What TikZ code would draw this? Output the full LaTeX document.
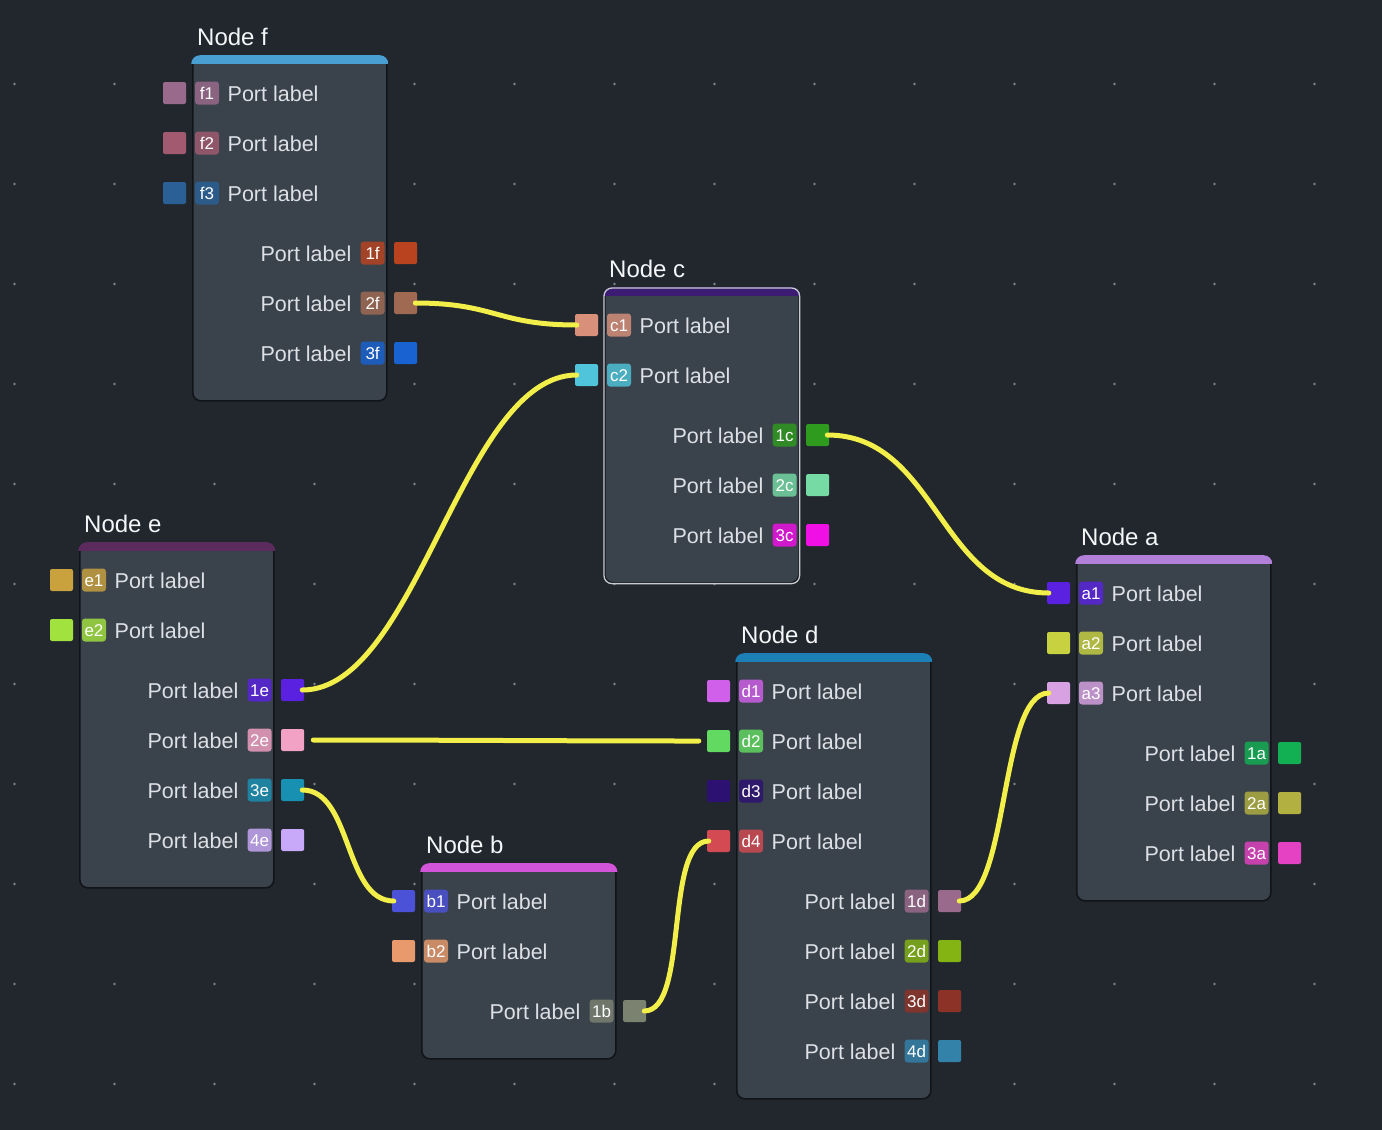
\documentclass[tikz,border=0pt]{standalone}
\usepackage{fontspec}
\setmainfont{Liberation Sans}
\usetikzlibrary{calc}
\definecolor{bgc}{HTML}{22272E}
\definecolor{bodyc}{HTML}{3A424C}
\definecolor{bordc}{HTML}{111418}
\definecolor{selc}{HTML}{C8CCD2}
\definecolor{wirec}{HTML}{F2EE4A}
\definecolor{dotc}{HTML}{7E858E}
\definecolor{labc}{HTML}{DDE1E6}
\definecolor{titc}{HTML}{F4F6F8}
\definecolor{hf}{HTML}{4A9FD2}
\definecolor{hc}{HTML}{3B1C72}
\definecolor{he}{HTML}{5C2B5E}
\definecolor{hb}{HTML}{D254D8}
\definecolor{hd}{HTML}{1C7FB6}
\definecolor{ha}{HTML}{B27FD9}
% port colours
\definecolor{pf1}{HTML}{9A6A8C}\definecolor{pf2}{HTML}{A25A70}\definecolor{pf3}{HTML}{2A6096}
\definecolor{p1f}{HTML}{B9431F}\definecolor{p2f}{HTML}{A06A52}\definecolor{p3f}{HTML}{1862D2}
\definecolor{pc1}{HTML}{D9907A}\definecolor{pc2}{HTML}{4FC4DA}
\definecolor{p1c}{HTML}{2E9A1E}\definecolor{p2c}{HTML}{76DAA4}\definecolor{p3c}{HTML}{F010E6}
\definecolor{pe1}{HTML}{C9A23E}\definecolor{pe2}{HTML}{A2E23E}
\definecolor{p1e}{HTML}{5A22E0}\definecolor{p2e}{HTML}{F2A2C4}\definecolor{p3e}{HTML}{1890B2}\definecolor{p4e}{HTML}{C8A8F8}
\definecolor{pb1}{HTML}{4C52D8}\definecolor{pb2}{HTML}{E99A6C}\definecolor{p1b}{HTML}{7C8270}
\definecolor{pd1}{HTML}{D060EA}\definecolor{pd2}{HTML}{62DA62}\definecolor{pd3}{HTML}{2C1072}\definecolor{pd4}{HTML}{D44A52}
\definecolor{p1d}{HTML}{9A6A8C}\definecolor{p2d}{HTML}{84B414}\definecolor{p3d}{HTML}{8C3226}\definecolor{p4d}{HTML}{3282AA}
\definecolor{pa1}{HTML}{5A22E0}\definecolor{pa2}{HTML}{C8D240}\definecolor{pa3}{HTML}{D8A2E2}
\definecolor{p1a}{HTML}{12B052}\definecolor{p2a}{HTML}{B2B040}\definecolor{p3a}{HTML}{E442C2}

\tikzset{
  nodebody/.style={draw=bordc, line width=1.6pt, fill=bodyc, rounded corners=8pt,
    minimum width=194pt, inner sep=0pt, anchor=north west},
  titlestyle/.style={text=titc, font=\fontsize{24}{28}\selectfont, inner sep=0pt, anchor=base west},
  sq/.style={minimum width=23pt, minimum height=22pt, inner sep=0pt, rounded corners=2pt},
  badge/.style={minimum width=24pt, minimum height=23pt, inner sep=0pt, rounded corners=3pt,
    text=white, font=\fontsize{17}{20}\selectfont, text height=12.3pt, text depth=0pt},
  plabel/.style={text=labc, font=\fontsize{21.5}{25}\selectfont, inner sep=0pt},
  wire/.style={draw=wirec, line width=5pt, line cap=round},
}
\newcommand\mkbox[6]{% name, L, T, height, header, title
  \node[nodebody, minimum height=#4pt] (#1) at (#2,#3) {};
  \begin{scope}
    \clip[rounded corners=8.8pt] ([shift={(-0.8pt,0.8pt)}]#1.north west) rectangle ([shift={(0.8pt,-0.8pt)}]#1.south east);
    \fill[#5] ([shift={(-1pt,1pt)}]#1.north west) rectangle ([shift={(1pt,-8pt)}]#1.north east);
  \end{scope}
  \node[titlestyle] (#1-title) at ([shift={(5pt,11pt)}]#1.north west) {#6};
}
\newcommand\inport[5]{% node, name, offset, colour, badge
  \node[sq, fill=#4] (#2) at ([shift={(-17.5pt,-#3pt)}]#1.north west) {};
  \node[badge, fill=#4!82!bodyc] (#2-b) at ([shift={(15pt,-#3pt)}]#1.north west) {#5};
  \node[plabel, anchor=base west] (#2-l) at ([shift={(35.5pt,-#3pt-8.5pt)}]#1.north west) {Port label};
}
\newcommand\outport[5]{% node, name, offset, colour, badge
  \node[sq, fill=#4] (#2) at ([shift={(18pt,-#3pt)}]#1.north east) {};
  \node[badge, fill=#4!82!bodyc] (#2-b) at ([shift={(-15pt,-#3pt)}]#1.north east) {#5};
  \node[plabel, anchor=base east] (#2-l) at ([shift={(-36pt,-#3pt-8.5pt)}]#1.north east) {Port label};
}
\newcommand\wireto[3]{%
  \draw[wire] ([xshift=-2pt]#1.east) .. controls +(#3,0) and +(-#3,0) .. ([xshift=2pt]#2.west);
}

\begin{document}
\begin{tikzpicture}[x=1pt, y=-1pt]
\fill[bgc] (0,0) rectangle (1382,1130);
\useasboundingbox (0,0) rectangle (1382,1130);
\foreach \i in {0,...,13}{
  \foreach \j in {0,...,10}{
    \fill[dotc] (14.5+100*\i, 84+100*\j) circle (1.3);
  }
}

% Node f
\mkbox{nf}{192}{56}{344}{hf}{Node f}
\inport{nf}{f1}{37}{pf1}{f1}
\inport{nf}{f2}{87}{pf2}{f2}
\inport{nf}{f3}{137}{pf3}{f3}
\outport{nf}{o1f}{197}{p1f}{1f}
\outport{nf}{o2f}{247}{p2f}{2f}
\outport{nf}{o3f}{297}{p3f}{3f}

% Node c (selected)
\mkbox{nc}{604}{288}{294}{hc}{Node c}
\draw[selc, line width=1.3pt, rounded corners=8pt] (nc.north west) rectangle (nc.south east);
\inport{nc}{c1}{37}{pc1}{c1}
\inport{nc}{c2}{87}{pc2}{c2}
\outport{nc}{o1c}{147}{p1c}{1c}
\outport{nc}{o2c}{197}{p2c}{2c}
\outport{nc}{o3c}{247}{p3c}{3c}

% Node e
\mkbox{ne}{79}{543}{344}{he}{Node e}
\inport{ne}{e1}{37}{pe1}{e1}
\inport{ne}{e2}{87}{pe2}{e2}
\outport{ne}{o1e}{147}{p1e}{1e}
\outport{ne}{o2e}{197}{p2e}{2e}
\outport{ne}{o3e}{247}{p3e}{3e}
\outport{ne}{o4e}{297}{p4e}{4e}

% Node b
\mkbox{nb}{421}{864}{194}{hb}{Node b}
\inport{nb}{b1}{37}{pb1}{b1}
\inport{nb}{b2}{87}{pb2}{b2}
\outport{nb}{o1b}{147}{p1b}{1b}

% Node d
\mkbox{nd}{736}{654}{444}{hd}{Node d}
\inport{nd}{d1}{37}{pd1}{d1}
\inport{nd}{d2}{87}{pd2}{d2}
\inport{nd}{d3}{137}{pd3}{d3}
\inport{nd}{d4}{187}{pd4}{d4}
\outport{nd}{o1d}{247}{p1d}{1d}
\outport{nd}{o2d}{297}{p2d}{2d}
\outport{nd}{o3d}{347}{p3d}{3d}
\outport{nd}{o4d}{397}{p4d}{4d}

% Node a
\mkbox{na}{1076}{556}{344}{ha}{Node a}
\inport{na}{a1}{37}{pa1}{a1}
\inport{na}{a2}{87}{pa2}{a2}
\inport{na}{a3}{137}{pa3}{a3}
\outport{na}{o1a}{197}{p1a}{1a}
\outport{na}{o2a}{247}{p2a}{2a}
\outport{na}{o3a}{297}{p3a}{3a}

% wires
\wireto{o2f}{c1}{80}
\wireto{o1e}{c2}{115}
\wireto{o1c}{a1}{110}
\wireto{o3e}{b1}{50}
\wireto{o1b}{d4}{45}
\wireto{o1d}{a3}{50}
\draw[wire, shorten <=9pt, shorten >=8pt] (o2e.east) .. controls +(150,0) and +(-150,0) .. (d2.west);
\end{tikzpicture}
\end{document}
